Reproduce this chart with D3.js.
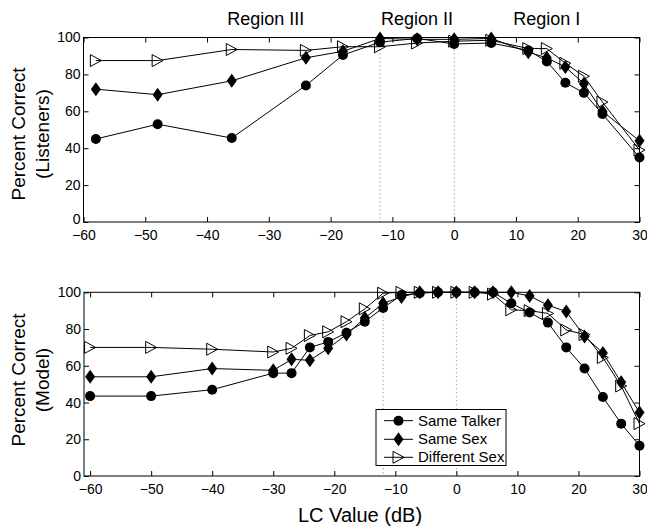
<!DOCTYPE html>
<html><head><meta charset="utf-8">
<script src="https://cdn.jsdelivr.net/npm/d3@7"></script>
<style>
html,body{margin:0;padding:0;background:#fff;}
text{font-family:"Liberation Sans",Arial,Helvetica,sans-serif;fill:#000;}
</style></head>
<body>
<svg id="chart" width="647" height="529"></svg>
<script>
// ---------- data ----------
const topX = [-58, -48, -36, -24, -18, -12, -6, 0, 6, 12, 15, 18, 21, 24, 30];
const topSameTalker = [45, 53, 45.5, 74, 90.5, 97.5, 99.5, 96.5, 97, 93, 87, 75.5, 70, 58.5, 35];
const topSameSex    = [72, 69, 76.5, 89, 92.5, 99.5, 99, 99, 99.5, 92, 89, 84, 75, 60, 44];
const topDiffSex    = [87.5, 87.5, 93.5, 93, 95, 95, 97, 98, 98.5, 94, 94, 86, 79, 65, 39];

const botX = [-60, -50, -40, -30, -27, -24, -21, -18, -15, -12, -9, -6, -3, 0, 3, 6, 9, 12, 15, 18, 21, 24, 27, 30];
const botSameTalker = [43.5, 43.5, 47, 56, 56, 70, 73, 78, 84, 91.5, 98.5, 99.5, 100, 100, 100, 100, 94, 89, 83.5, 70, 58.5, 43, 28.5, 16.5];
const botSameSex    = [54, 54, 58.5, 57.5, 63.5, 63, 69.5, 77, 86, 94, 97.5, 100, 100, 100, 100, 100, 100, 98, 93, 89.5, 76, 67, 51, 34.5];
const botDiffSex    = [70, 70, 69, 67.5, 69.5, 76.5, 78.5, 84, 91, 99.5, 100, 100, 100, 100, 100, 99, 90.5, 90, 88.5, 79.5, 77, 64.5, 49, 28.5];

const seriesNames = ["Same Talker", "Same Sex", "Different Sex"];
const markerTypes = ["circle", "diamond", "triangle"];
const xTicks = [-60, -50, -40, -30, -20, -10, 0, 10, 20, 30];
const yTicks = [0, 20, 40, 60, 80, 100];
const regionLabels = ["Region III", "Region II", "Region I"];
const regionX = [-30.5, -6, 15];
const dividers = [-12, 0];
const xLabel = "LC Value (dB)";
const yLabelTop = ["Percent Correct", "(Listeners)"];
const yLabelBot = ["Percent Correct", "(Model)"];

// ---------- drawing ----------
const svg = d3.select("#chart");

function marker(g, type, x, y) {
  if (type === "circle") {
    g.append("circle").attr("cx", x).attr("cy", y).attr("r", 5).attr("fill", "#000");
  } else if (type === "diamond") {
    g.append("path").attr("d", `M${x},${y-7}L${x+5},${y}L${x},${y+7}L${x-5},${y}Z`).attr("fill", "#000");
  } else {
    g.append("path").attr("d", `M${x-5.5},${y-6}L${x+5.5},${y}L${x-5.5},${y+6}Z`)
      .attr("fill", "none").attr("stroke", "#000").attr("stroke-width", 1);
  }
}

function panel(cfg) {
  const x = d3.scaleLinear().domain(cfg.xDomain).range([cfg.left, cfg.right]);
  const y = d3.scaleLinear().domain([0, 100]).range([cfg.bottom, cfg.top]);
  const g = svg.append("g");

  // dotted dividers
  dividers.forEach(v => {
    g.append("line").attr("x1", x(v)).attr("x2", x(v)).attr("y1", y(100)).attr("y2", y(0))
      .attr("stroke", "#777").attr("stroke-width", 1).attr("stroke-dasharray", "1,3");
  });

  // axes
  const ax = d3.axisBottom(x).tickValues(xTicks).tickSize(-5).tickSizeOuter(0).tickPadding(8)
    .tickFormat(d3.format("d"));
  const axB = g.append("g").attr("transform", `translate(0,${cfg.bottom})`).call(ax);
  const axT = g.append("g").attr("transform", `translate(0,${cfg.top})`)
    .call(d3.axisTop(x).tickValues(xTicks).tickSize(-5).tickSizeOuter(0).tickFormat(""));
  const axL = g.append("g").attr("transform", `translate(${cfg.left},0)`)
    .call(d3.axisLeft(y).tickValues(yTicks).tickSize(-5).tickSizeOuter(0).tickPadding(3));
  const axR = g.append("g").attr("transform", `translate(${cfg.right},0)`)
    .call(d3.axisRight(y).tickValues(yTicks).tickSize(-5).tickSizeOuter(0).tickFormat(""));
  [axB, axT, axL, axR].forEach(a => {
    a.select(".domain").remove();
    a.selectAll("line").attr("stroke", "#000");
    a.selectAll("text").attr("font-size", 14).attr("fill", "#000")
      .style("font-family", '"Liberation Sans",Arial,sans-serif');
  });
  axB.selectAll(".tick").filter(d => d < cfg.xDomain[0] || d > cfg.xDomain[1]).remove();
  axT.selectAll(".tick").filter(d => d < cfg.xDomain[0] || d > cfg.xDomain[1]).remove();
  if (cfg.liftZero) {
    axL.selectAll(".tick").filter(d => d === 0).select("text").attr("y", -3);
  }

  g.append("rect").attr("x", cfg.left).attr("y", cfg.top)
    .attr("width", cfg.right - cfg.left).attr("height", cfg.bottom - cfg.top)
    .attr("fill", "none").attr("stroke", "#000").attr("stroke-width", 1);

  // series
  const line = d3.line().x(d => x(d[0])).y(d => y(d[1]));
  cfg.series.forEach((vals, i) => {
    const pts = cfg.xs.map((xv, j) => [xv, vals[j]]);
    g.append("path").attr("d", line(pts)).attr("fill", "none").attr("stroke", "#000").attr("stroke-width", 1);
    pts.forEach(p => marker(g, markerTypes[i], x(p[0]), y(p[1])));
  });

  // y label
  const yl = svg.append("text").attr("transform", `translate(25,${cfg.labelY}) rotate(-90)`)
    .attr("text-anchor", "middle").attr("font-size", 19);
  yl.append("tspan").attr("x", 0).attr("y", 0).text(cfg.yLabel[0]);
  yl.append("tspan").attr("x", 0).attr("y", 24).text(cfg.yLabel[1]);
  return {x, y, g};
}

const P1 = panel({xDomain: [-60, 30], left: 83.5, right: 639.5, top: 37.5, bottom: 222,
  xs: topX, series: [topSameTalker, topSameSex, topDiffSex], yLabel: yLabelTop, labelY: 134, liftZero: true});
const P2 = panel({xDomain: [-61, 30], left: 84, right: 639.5, top: 292.3, bottom: 476,
  xs: botX, series: [botSameTalker, botSameSex, botDiffSex], yLabel: yLabelBot, labelY: 380});

// region labels
regionLabels.forEach((t, i) => {
  svg.append("text").attr("x", P1.x(regionX[i])).attr("y", 25).attr("text-anchor", "middle")
    .attr("font-size", 18).text(t);
});

// x label
svg.append("text").attr("x", 360).attr("y", 522).attr("text-anchor", "middle")
  .attr("font-size", 20).text(xLabel);

// legend
const lg = svg.append("g");
lg.append("rect").attr("x", 376).attr("y", 409.5).attr("width", 130).attr("height", 56)
  .attr("fill", "#fff").attr("stroke", "#000").attr("stroke-width", 1);
const rowY = [420.7, 439.3, 457.3];
seriesNames.forEach((n, i) => {
  lg.append("line").attr("x1", 384).attr("x2", 413).attr("y1", rowY[i]).attr("y2", rowY[i])
    .attr("stroke", "#000").attr("stroke-width", 1);
  marker(lg, markerTypes[i], 398.5, rowY[i]);
  lg.append("text").attr("x", 418).attr("y", rowY[i] + 5).attr("font-size", 15).text(n);
});
</script>
</body></html>
